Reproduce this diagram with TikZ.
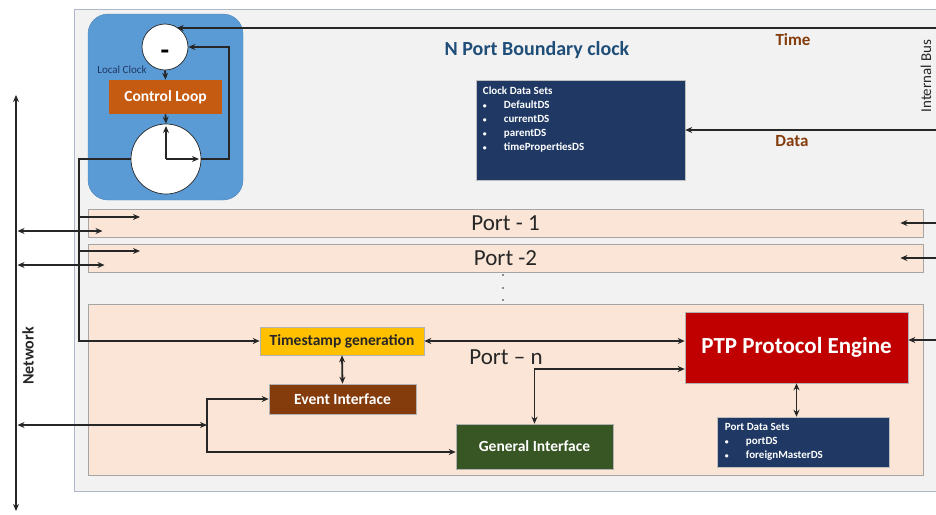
\documentclass[tikz,border=0pt]{standalone}
\usepackage{fontspec}
\setmainfont{Carlito}
\usetikzlibrary{arrows.meta, calc}
\definecolor{wire}{HTML}{262626}
\definecolor{navy}{HTML}{1F3864}
\definecolor{titleblue}{HTML}{1F4E79}
\definecolor{brownbox}{HTML}{843C0C}
\definecolor{orangebox}{HTML}{C55A11}
\definecolor{amber}{HTML}{FFC000}
\definecolor{greenbox}{HTML}{375623}
\definecolor{redbox}{HTML}{C00000}
\definecolor{portfill}{HTML}{FBE5D6}
\definecolor{portline}{HTML}{A5A5A5}
\definecolor{bgfill}{HTML}{F2F2F2}
\definecolor{frame}{HTML}{ADB9CA}
\definecolor{clockblue}{HTML}{5B9BD5}
\newcommand{\pxsize}[2]{\fontsize{#1}{#2}\selectfont}
\newcommand{\bul}{\makebox[21pt][l]{\scalebox{0.7}{•}}}

\begin{document}
\begin{tikzpicture}[x=1pt, y=-1pt, >={Stealth[length=7pt,width=6pt]},
  conn/.style={line width=1.8pt, draw=wire},
  netw/.style={line width=2.4pt, draw=wire},
  blk/.style={rectangle, inner sep=0pt, draw=gray!60, line width=0.6pt, text=white, font=\bfseries\pxsize{15.5}{18}},
  portbox/.style={rectangle, inner sep=0pt, fill=portfill, draw=portline, line width=0.8pt, minimum width=835pt, text=wire, font=\pxsize{23}{27}},
  dsbox/.style={rectangle, inner sep=0pt, fill=navy, draw=gray!50, line width=0.5pt},
  dstext/.style={anchor=north west, align=left, inner sep=0pt, text=white, font=\bfseries\pxsize{11}{14}},
  ring/.style={circle, inner sep=0pt, fill=white, draw=wire, line width=0.7pt}]
  \useasboundingbox (0,0) rectangle (936,514);
  \clip (0,0) rectangle (936,514);

  \draw[fill=bgfill, draw=frame, line width=0.8pt] (74,9) rectangle (945,491);
  \draw[fill=clockblue, draw=clockblue!85!black, rounded corners=20pt] (88,14) rectangle (243,200);

  \node[ring, minimum size=46pt, font=\bfseries\pxsize{28}{30}] (minus) at (165,47) {\smash{\raisebox{-12pt}{-}}};
  \node[font=\pxsize{11}{13}, text=navy] (lclk) at (122,70) {Local Clock};
  \node[blk, fill=orangebox, draw=none, minimum width=113pt, minimum height=34pt] (ctrl) at (165.5,97) {Control Loop};
  \node[ring, minimum size=70pt] (clk) at (166,159) {};
  \draw[line width=1.3pt, draw=wire, ->] (clk.center) -- ++(0,-33);
  \draw[line width=1.3pt, draw=wire, ->] (clk.center) -- ++(33,0);
  \draw[conn, ->] (minus.south) -- (ctrl.north);
  \draw[conn, ->] (ctrl.south) -- (clk.north);
  \draw[conn, ->] (clk.east) -- ++(28,0) |- (minus.east);

  \node[font=\bfseries\pxsize{20}{24}, text=titleblue] (title) at (537,50) {N Port Boundary clock};
  \node[font=\bfseries\pxsize{17}{20}, text=brownbox] (timelbl) at (793,40) {Time};
  \node[font=\bfseries\pxsize{17}{20}, text=brownbox] (datalbl) at (792,141) {Data};
  \node[rotate=90, font=\pxsize{15}{18}, text=wire] (ibus) at (926,76) {Internal Bus};

  \node[dsbox, minimum width=209pt, minimum height=100pt] (clockds) at (580.5,130) {};
  \node[dstext] (clockdstxt) at ([xshift=7pt,yshift=-7pt]clockds.north west)
    {Clock Data Sets\\ \bul DefaultDS\\ \bul currentDS\\ \bul parentDS\\ \bul timePropertiesDS};

  \coordinate (timein) at (936,28);
  \coordinate (datain) at (936,130);
  \draw[conn, ->] (timein) -- (timein -| minus.60);
  \draw[conn, ->] (datain) -- (clockds.east);

  \node[portbox, minimum height=28pt] (port1) at (505.5,223) {Port - 1};
  \node[portbox, minimum height=28pt] (port2) at (505.5,258) {Port -2};
  \node[portbox, minimum height=171pt] (portn) at (505.5,389.5) {};
  \node[font=\pxsize{23}{27}, text=wire] (portnlbl) at (506,357) {Port – n};
  \foreach \y in {275,288,300} \fill[wire] (503,\y) circle (0.9);

  \node[blk, fill=amber, text=wire, minimum width=164pt, minimum height=28pt] (ts) at (342,341) {Timestamp generation};
  \node[blk, fill=brownbox, minimum width=147pt, minimum height=30pt] (ev) at (342.5,399) {Event Interface};
  \node[blk, fill=greenbox, minimum width=157pt, minimum height=45pt] (gen) at (534.5,446.5) {General Interface};
  \node[blk, fill=redbox, minimum width=223pt, minimum height=71pt, font=\bfseries\pxsize{23}{27}] (ptp) at (796.5,347.5) {PTP Protocol Engine};
  \node[dsbox, minimum width=172pt, minimum height=50pt] (portds) at (803,442) {};
  \node[dstext] (portdstxt) at ([xshift=8pt,yshift=-6pt]portds.north west)
    {Port Data Sets\\ \bul portDS\\ \bul foreignMasterDS};

  \coordinate (lbus) at (79,159);
  \coordinate (p1tap) at (79,217);
  \coordinate (p2tap) at (79,251);
  \draw[conn, ->] (clk.west) -- (lbus) |- (ts.west);
  \draw[conn, ->] (p1tap) -- ++(61,0);
  \draw[conn, ->] (p2tap) -- ++(61,0);

  \coordinate (nettop) at (16,95);
  \coordinate (netbot) at (16,511);
  \coordinate (net1) at (17.5,231);
  \coordinate (net2) at (17.5,265);
  \coordinate (netn) at (17.5,425);
  \coordinate (split) at (207,425);
  \draw[netw, <->] (nettop) -- (netbot);
  \node[rotate=90, font=\bfseries\pxsize{16}{19}, text=wire] (netlbl) at (28,356) {Network};
  \draw[conn, <->] (net1) -- ++(85,0);
  \draw[conn, <->] (net2) -- ++(87,0);
  \draw[conn, <->] (netn) -- (split);
  \draw[conn, ->] (split) |- (ev.west);
  \draw[conn, ->] (split) |- ([yshift=-5.5pt]gen.west);

  \draw[conn, <->] (ts.east) -- (ts.east -| ptp.west);
  \draw[conn, <->] (ts.south) -- (ev.north);
  \draw[conn, <->] (gen.north) |- ([yshift=-21.5pt]ptp.west);
  \draw[conn, <->] (ptp.south) -- (ptp.south |- portds.north);

  \coordinate (bus1) at (936,223);
  \coordinate (bus2) at (936,258);
  \coordinate (busn) at (936,340);
  \draw[conn, ->] (bus1) -- ([xshift=-23pt]port1.east);
  \draw[conn, ->] (bus2) -- ([xshift=-23pt]port2.east);
  \draw[conn, ->] (busn) -- (busn -| ptp.east);
\end{tikzpicture}
\end{document}
